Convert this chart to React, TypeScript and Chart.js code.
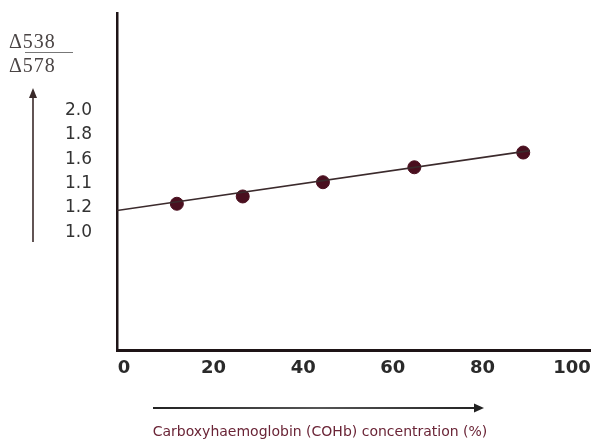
import React, { useEffect, useRef } from "react";
import { Chart, registerables } from "chart.js";

Chart.register(...registerables);

const xTickValues = [0, 20, 40, 60, 80, 100];
const xTickLabels = ["0", "20", "40", "60", "80", "100"];
const yTickValues = [1.0, 1.2, 1.4, 1.6, 1.8, 2.0];
const yTickLabels = ["1.0", "1.2", "1.1", "1.6", "1.8", "2.0"];
const cohbPercent = [11.8, 26.5, 44.4, 64.8, 89.1];
const absorbanceRatio = [1.235, 1.295, 1.412, 1.535, 1.656];
const fitLineX = [-1.56, 90.6];
const fitLineY = [1.18, 1.672];

const xTitle = "Carboxyhaemoglobin (COHb) concentration (%)";
const yNumerator = "Δ538";
const yDenominator = "Δ578";

const decorations = {
  id: "decorations",
  afterDraw(chart: any) {
    const ctx = chart.ctx;
    ctx.save();
    // fraction label
    ctx.fillStyle = "#4a4444";
    ctx.font = "20px 'Liberation Serif'";
    ctx.textBaseline = "alphabetic";
    ctx.textAlign = "left";
    (ctx as any).letterSpacing = "1px";
    ctx.fillText(yNumerator, 9, 48);
    ctx.fillText(yDenominator, 9, 72);
    (ctx as any).letterSpacing = "0px";
    ctx.strokeStyle = "#777";
    ctx.lineWidth = 1.2;
    ctx.beginPath();
    ctx.moveTo(25, 52.5);
    ctx.lineTo(73, 52.5);
    ctx.stroke();
    // vertical arrow
    ctx.strokeStyle = "#3a2a2a";
    ctx.fillStyle = "#3a2a2a";
    ctx.lineWidth = 1.6;
    ctx.beginPath();
    ctx.moveTo(33, 242);
    ctx.lineTo(33, 96);
    ctx.stroke();
    ctx.beginPath();
    ctx.moveTo(33, 88);
    ctx.lineTo(29, 98);
    ctx.lineTo(37, 98);
    ctx.closePath();
    ctx.fill();
    // horizontal arrow
    const g = ctx.createLinearGradient(153, 0, 483, 0);
    g.addColorStop(0, "#222");
    g.addColorStop(0.5, "#555");
    g.addColorStop(1, "#222");
    ctx.strokeStyle = g;
    ctx.lineWidth = 2;
    ctx.beginPath();
    ctx.moveTo(153, 408);
    ctx.lineTo(476, 408);
    ctx.stroke();
    ctx.fillStyle = "#222";
    ctx.beginPath();
    ctx.moveTo(484, 408);
    ctx.lineTo(474, 403.5);
    ctx.lineTo(474, 412.5);
    ctx.closePath();
    ctx.fill();
    // x-axis title
    ctx.fillStyle = "#6a2436";
    ctx.font = "14px 'DejaVu Sans'";
    ctx.textAlign = "center";
    ctx.textBaseline = "middle";
    ctx.fillText(xTitle, 320, 432);
    ctx.restore();
  },
};

export default function App() {
  const ref = useRef<HTMLCanvasElement | null>(null);
  useEffect(() => {
    if (!ref.current) return;
    const chart = new Chart(ref.current, {
      type: "scatter",
      data: {
        datasets: [
          {
            type: "line",
            data: fitLineX.map((x, i) => ({ x, y: fitLineY[i] })),
            borderColor: "#3b2a2c",
            borderWidth: 1.6,
            pointRadius: 0,
            fill: false,
          },
          {
            data: cohbPercent.map((x, i) => ({ x, y: absorbanceRatio[i] })),
            backgroundColor: "#4a0f1f",
            borderColor: "#4a0f1f",
            pointRadius: 6.5,
            pointHoverRadius: 6.5,
          },
        ],
      },
      options: {
        responsive: false,
        animation: false,
        layout: { autoPadding: false, padding: { top: 13, right: 3, left: 0, bottom: 0 } },
        plugins: { legend: { display: false }, tooltip: { enabled: false } },
        scales: {
          x: {
            type: "linear",
            min: -1.56,
            max: 104,
            grid: { display: false, drawTicks: false },
            border: { display: true, color: "#1e1416", width: 3 },
            afterBuildTicks: (s: any) => {
              s.ticks = xTickValues.map((v) => ({ value: v }));
            },
            afterFit: (s: any) => {
              s.height = 91;
              s.paddingLeft = 0;
              s.paddingRight = 0;
              s.paddingTop = 0;
              s.paddingBottom = 0;
            },
            ticks: {
              padding: 8,
              color: "#2a2a2a",
              font: { family: "'DejaVu Sans'", size: 18, weight: "bold" },
              maxRotation: 0,
              autoSkip: false,
              callback: (_v: any, i: number) => xTickLabels[i],
            },
          },
          y: {
            type: "linear",
            min: 0.033,
            max: 2.803,
            grid: { display: false, drawTicks: false },
            border: { display: true, color: "#1e1416", width: 2.5 },
            afterBuildTicks: (s: any) => {
              s.ticks = yTickValues.map((v) => ({ value: v }));
            },
            afterFit: (s: any) => {
              s.width = 117;
              s.paddingLeft = 0;
              s.paddingRight = 0;
              s.paddingTop = 0;
              s.paddingBottom = 0;
            },
            ticks: {
              padding: 25,
              color: "#333",
              font: { family: "'DejaVu Sans'", size: 17 },
              autoSkip: false,
              callback: (_v: any, i: number) => yTickLabels[i],
            },
          },
        },
      },
      plugins: [decorations],
    } as any);
    return () => chart.destroy();
  }, []);
  return (
    <div style={{ position: "fixed", left: 0, top: 0, width: 593, height: 441, background: "#fff" }}>
      <canvas ref={ref} width={593} height={441} />
    </div>
  );
}
